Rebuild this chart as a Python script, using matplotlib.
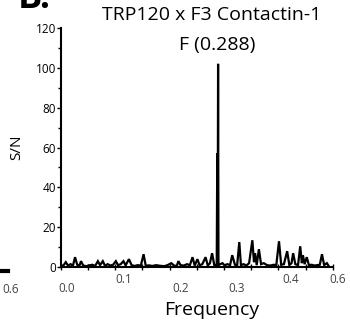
import matplotlib
matplotlib.use("Agg")
import matplotlib.pyplot as plt
from matplotlib.lines import Line2D
from matplotlib.ticker import MultipleLocator

# spectrum (frequency, S/N)
freq = [0.000, 0.005, 0.009, 0.013, 0.018, 0.022, 0.026, 0.030, 0.034, 0.037,
        0.041, 0.047, 0.052, 0.058, 0.063, 0.068, 0.072, 0.077, 0.081, 0.086,
        0.091, 0.096, 0.101, 0.105, 0.110, 0.115, 0.119, 0.125, 0.130, 0.136,
        0.141, 0.147, 0.152, 0.156, 0.162, 0.168, 0.175, 0.182, 0.190, 0.196,
        0.203, 0.208, 0.213, 0.216, 0.220, 0.226, 0.232, 0.237, 0.242, 0.246,
        0.251, 0.255, 0.260, 0.266, 0.270, 0.274, 0.278, 0.282, 0.2865, 0.2875,
        0.2882, 0.2890, 0.2897, 0.293, 0.297, 0.301, 0.306, 0.311, 0.315, 0.320,
        0.324, 0.328, 0.331, 0.336, 0.341, 0.346, 0.352, 0.355, 0.357, 0.360,
        0.364, 0.368, 0.373, 0.379, 0.385, 0.391, 0.396, 0.401, 0.405, 0.410,
        0.416, 0.420, 0.424, 0.427, 0.431, 0.436, 0.440, 0.443, 0.445, 0.448,
        0.452, 0.456, 0.461, 0.466, 0.471, 0.476, 0.480, 0.484, 0.489, 0.493]
sn = [0.5, 1.0, 2.5, 0.8, 1.5, 0.6, 5.0, 1.2, 0.7, 3.0,
      0.8, 0.5, 0.9, 1.2, 0.6, 3.0, 1.0, 3.0, 0.7, 1.5,
      0.8, 1.2, 3.0, 1.0, 1.5, 3.0, 0.9, 4.0, 1.0, 0.6,
      1.0, 0.8, 6.5, 0.7, 0.9, 0.6, 1.0, 0.7, 0.5, 1.0,
      2.0, 0.8, 0.6, 3.0, 1.0, 0.8, 1.5, 0.9, 5.0, 0.8,
      4.0, 0.9, 1.5, 5.0, 0.8, 2.0, 7.0, 1.0, 1.2, 57.0,
      1.0, 102.0, 1.0, 1.5, 2.0, 0.9, 1.5, 1.0, 6.0, 1.2,
      0.8, 12.6, 1.0, 1.5, 0.8, 2.0, 13.5, 2.5, 7.0, 1.0,
      9.0, 1.5, 2.0, 1.0, 0.8, 1.2, 1.0, 13.0, 1.2, 1.5,
      8.0, 1.0, 2.0, 7.0, 1.5, 1.0, 10.5, 2.0, 6.0, 1.5,
      5.0, 1.0, 1.2, 0.8, 1.0, 1.2, 6.5, 1.0, 2.0, 0.3]

xtick_vals = [0.0, 0.1, 0.2, 0.3, 0.4, 0.5]
xtick_labels = ["0.0", "0.1", "0.2", "0.3", "0.4", "0.6"]
ytick_vals = [0, 20, 40, 60, 80, 100, 120]

title_text = "TRP120 x F3 Contactin-1"
peak_text = "F (0.288)"

plt.rcParams["font.family"] = ["Open Sans", "DejaVu Sans"]

fig = plt.figure(figsize=(3.5, 3.25), dpi=100)
ax = fig.add_axes([0.174, 0.178, 0.777, 0.736])

ax.plot(freq, sn, color="black", linewidth=1.6, solid_joinstyle="miter")
ax.set_xlim(0, 0.5)
ax.set_ylim(0, 120)

for s in ("top", "right"):
    ax.spines[s].set_visible(False)
for s in ("left", "bottom"):
    ax.spines[s].set_linewidth(1.5)

ax.set_yticks(ytick_vals)
ax.set_yticklabels([str(v) for v in ytick_vals], fontsize=8.5)
ax.yaxis.set_minor_locator(MultipleLocator(10))
ax.tick_params(axis="y", which="major", direction="out", length=3, width=1, pad=0.5)
ax.tick_params(axis="y", which="minor", direction="out", length=2, width=1)

# x tick labels in the figure sit slightly right of the ticks, at uneven heights
ax.set_xticks(xtick_vals)
ax.set_xticklabels([])
ax.xaxis.set_minor_locator(MultipleLocator(0.05))
ax.tick_params(axis="x", which="both", direction="inout", length=5, width=1)
nudge = [-0.09, -0.05, -0.09, -0.09, -0.05, -0.05]
shift = [0.010, 0.016, 0.020, 0.024, 0.022, 0.009]
for xv, lab, dy, dx in zip(xtick_vals, xtick_labels, nudge, shift):
    ax.text(xv + dx, dy, lab, transform=ax.get_xaxis_transform(),
            ha="center", va="center", fontsize=8.5, color="#444444")

ax.set_ylabel("S/N", fontsize=11, labelpad=8)

fig.text(0.606, 0.954, title_text, ha="center", va="center", fontsize=14)
fig.text(0.620, 0.862, peak_text, ha="center", va="center", fontsize=14)
fig.text(0.606, 0.046, "Frequency", ha="center", va="center", fontsize=14)

# remnants of the neighbouring panel
fig.text(0.05, 0.975, "B.", ha="left", va="baseline", fontsize=26,
         fontweight="bold")
fig.text(0.03, 0.108, "0.6", ha="center", va="center", fontsize=8.5,
         color="#444444")
fig.add_artist(Line2D([0.006, 0.022], [0.167, 0.167], color="black",
                      linewidth=3, transform=fig.transFigure))

fig.savefig("out.png", dpi=100)
